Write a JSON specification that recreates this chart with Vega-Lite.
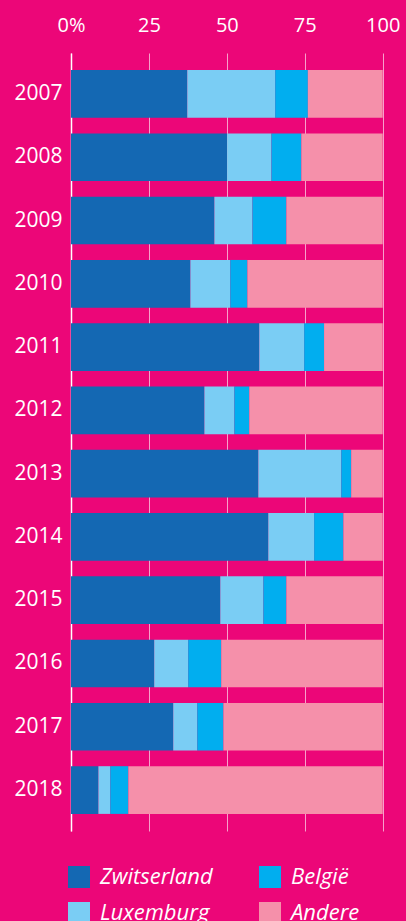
{
  "$schema": "https://vega.github.io/schema/vega-lite/v6.json",
  "width": 311.7,
  "height": 778,
  "autosize": {"type": "none"},
  "padding": {"left": 71, "top": 53, "right": 23, "bottom": 90},
  "background": "#ec0678",
  "config": {"view": {"stroke": null}, "font": "Open Sans"},
  "data": {"values": [
    {"jaar": "2007", "land": "Zwitserland", "aandeel": 37.3},
    {"jaar": "2007", "land": "Luxemburg", "aandeel": 28.2},
    {"jaar": "2007", "land": "België", "aandeel": 10.5},
    {"jaar": "2007", "land": "Andere", "aandeel": 24.0},
    {"jaar": "2008", "land": "Zwitserland", "aandeel": 50.1},
    {"jaar": "2008", "land": "Luxemburg", "aandeel": 14.2},
    {"jaar": "2008", "land": "België", "aandeel": 9.6},
    {"jaar": "2008", "land": "Andere", "aandeel": 26.1},
    {"jaar": "2009", "land": "Zwitserland", "aandeel": 46.0},
    {"jaar": "2009", "land": "Luxemburg", "aandeel": 12.2},
    {"jaar": "2009", "land": "België", "aandeel": 10.9},
    {"jaar": "2009", "land": "Andere", "aandeel": 30.9},
    {"jaar": "2010", "land": "Zwitserland", "aandeel": 38.3},
    {"jaar": "2010", "land": "Luxemburg", "aandeel": 12.8},
    {"jaar": "2010", "land": "België", "aandeel": 5.5},
    {"jaar": "2010", "land": "Andere", "aandeel": 43.4},
    {"jaar": "2011", "land": "Zwitserland", "aandeel": 60.4},
    {"jaar": "2011", "land": "Luxemburg", "aandeel": 14.4},
    {"jaar": "2011", "land": "België", "aandeel": 6.4},
    {"jaar": "2011", "land": "Andere", "aandeel": 18.8},
    {"jaar": "2012", "land": "Zwitserland", "aandeel": 42.8},
    {"jaar": "2012", "land": "Luxemburg", "aandeel": 9.6},
    {"jaar": "2012", "land": "België", "aandeel": 4.8},
    {"jaar": "2012", "land": "Andere", "aandeel": 42.8},
    {"jaar": "2013", "land": "Zwitserland", "aandeel": 60.1},
    {"jaar": "2013", "land": "Luxemburg", "aandeel": 26.6},
    {"jaar": "2013", "land": "België", "aandeel": 3.2},
    {"jaar": "2013", "land": "Andere", "aandeel": 10.1},
    {"jaar": "2014", "land": "Zwitserland", "aandeel": 63.3},
    {"jaar": "2014", "land": "Luxemburg", "aandeel": 14.7},
    {"jaar": "2014", "land": "België", "aandeel": 9.4},
    {"jaar": "2014", "land": "Andere", "aandeel": 12.6},
    {"jaar": "2015", "land": "Zwitserland", "aandeel": 47.9},
    {"jaar": "2015", "land": "Luxemburg", "aandeel": 13.8},
    {"jaar": "2015", "land": "België", "aandeel": 7.4},
    {"jaar": "2015", "land": "Andere", "aandeel": 30.9},
    {"jaar": "2016", "land": "Zwitserland", "aandeel": 26.7},
    {"jaar": "2016", "land": "Luxemburg", "aandeel": 10.9},
    {"jaar": "2016", "land": "België", "aandeel": 10.6},
    {"jaar": "2016", "land": "Andere", "aandeel": 51.8},
    {"jaar": "2017", "land": "Zwitserland", "aandeel": 32.8},
    {"jaar": "2017", "land": "Luxemburg", "aandeel": 7.7},
    {"jaar": "2017", "land": "België", "aandeel": 8.4},
    {"jaar": "2017", "land": "Andere", "aandeel": 51.1},
    {"jaar": "2018", "land": "Zwitserland", "aandeel": 8.8},
    {"jaar": "2018", "land": "Luxemburg", "aandeel": 3.8},
    {"jaar": "2018", "land": "België", "aandeel": 5.8},
    {"jaar": "2018", "land": "Andere", "aandeel": 81.6}
  ]},
  "mark": {"type": "bar", "strokeWidth": 0},
  "encoding": {
    "y": {
      "field": "jaar", "type": "nominal", "title": null,
      "scale": {"paddingInner": 0.246, "paddingOuter": 0.27},
      "axis": {
        "domain": true, "domainColor": "#ffffff", "domainWidth": 1.5,
        "ticks": false, "labelPadding": 9, "labelFontSize": 21,
        "labelColor": "#ffffff", "labelFont": "Open Sans"
      }
    },
    "x": {
      "field": "aandeel", "type": "quantitative", "stack": true, "title": null,
      "scale": {"domain": [0, 100], "nice": false},
      "axis": {
        "orient": "top", "values": [0, 25, 50, 75, 100],
        "labelExpr": "datum.value == 0 ? '0%' : datum.label",
        "domain": false, "ticks": false, "grid": true,
        "gridColor": "#f7a3cc", "gridWidth": 1, "gridOpacity": 1,
        "labelPadding": 18, "labelFontSize": 20, "labelColor": "#ffffff",
        "labelFont": "Open Sans", "labelFlush": false
      }
    },
    "color": {
      "field": "land", "type": "nominal", "title": null,
      "scale": {
        "domain": ["Zwitserland", "Luxemburg", "België", "Andere"],
        "range": ["#1468b3", "#7acdf4", "#01aeef", "#f590aa"]
      },
      "legend": {
        "orient": "none", "legendX": -3, "legendY": 813,
        "columns": 2, "columnPadding": 46, "rowPadding": 14,
        "symbolType": "square", "symbolSize": 484, "symbolStrokeWidth": 0,
        "symbolOpacity": 1, "labelOffset": 10,
        "labelFont": "Open Sans", "labelFontStyle": "italic",
        "labelFontSize": 22, "labelColor": "#ffffff", "padding": 0
      }
    },
    "order": {"field": "land", "sort": "descending"}
  }
}
